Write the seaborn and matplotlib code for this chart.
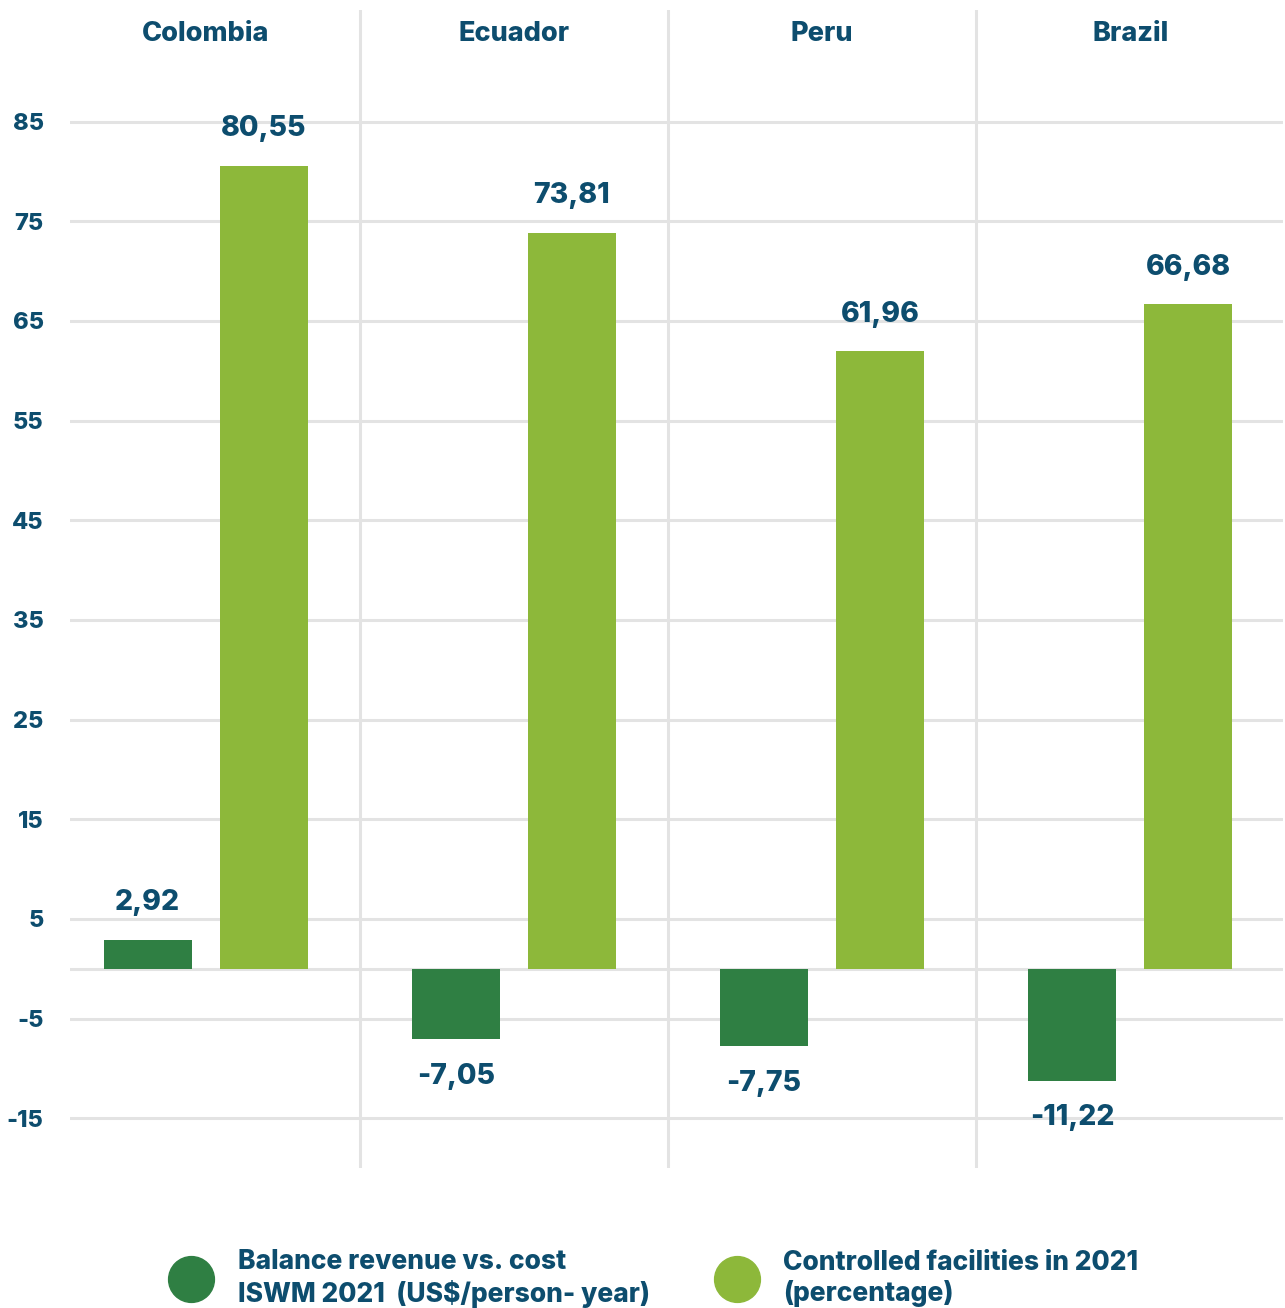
import matplotlib
matplotlib.use("Agg")
import matplotlib.pyplot as plt
from matplotlib.lines import Line2D
import seaborn as sns
import pandas as pd

# Data
countries = ["Colombia", "Ecuador", "Peru", "Brazil"]
balance = [2.92, -7.05, -7.75, -11.22]          # US$/person-year
controlled = [80.55, 73.81, 61.96, 66.68]       # percentage
series_names = [
    "Balance revenue vs. cost\nISWM 2021  (US\\$/person- year)",
    "Controlled facilities in 2021\n(percentage)",
]
y_ticks = [-15, -5, 5, 15, 25, 35, 45, 55, 65, 75, 85]

dark_green = "#2f7f43"
light_green = "#8db83a"
text_blue = "#0d4d6e"
grid_grey = "#e3e3e3"
heavy = 800

sns.set_theme(style="white")
plt.rcParams["font.family"] = ["Inter", "DejaVu Sans"]
plt.rcParams["font.weight"] = heavy
plt.rcParams["axes.unicode_minus"] = False

df = pd.DataFrame({
    "country": countries * 2,
    "series": [series_names[0]] * 4 + [series_names[1]] * 4,
    "value": balance + controlled,
})

fig = plt.figure(figsize=(12.85, 13.08), dpi=100)
ax = fig.add_axes([0.0545, 0.107, 0.944, 0.8854])

sns.barplot(data=df, x="country", y="value", hue="series",
            order=countries, hue_order=series_names,
            palette=[dark_green, light_green], width=0.752, gap=0.24,
            saturation=1, linewidth=0, legend=False, ax=ax, zorder=3)

ax.set_ylim(-20, 96.2)
ax.set_xlim(-0.44, 3.496)
ax.set_yticks(y_ticks)
ax.set_xlabel("")
ax.set_ylabel("")

# horizontal grid + zero line
for t in y_ticks + [0]:
    ax.axhline(t, color=grid_grey, lw=2.2, zorder=1)
# group separators
for xs in [0.5, 1.5, 2.5]:
    ax.axvline(xs, color=grid_grey, lw=2.2, zorder=1)

for s in ax.spines.values():
    s.set_visible(False)

ax.tick_params(axis="y", length=0, pad=19, labelsize=17, labelcolor=text_blue)
ax.tick_params(axis="x", length=0, bottom=False, labelbottom=False,
               top=True, labeltop=True, pad=-27, labelsize=19.5,
               labelcolor=text_blue)
for lab in ax.get_xticklabels() + ax.get_yticklabels():
    lab.set_fontweight(heavy)

# value labels
for cont in ax.containers:
    vals = [b.get_height() for b in cont]
    ax.bar_label(cont, labels=[f"{v:.2f}".replace(".", ",") for v in vals],
                 padding=17, fontsize=20.5, fontweight=heavy, color=text_blue)

handles = [Line2D([], [], marker="o", linestyle="", markersize=33, color=c)
           for c in (dark_green, light_green)]
fig.legend(handles, series_names, loc="center", ncol=2, frameon=False,
           bbox_to_anchor=(0.507, 0.0225), handletextpad=0.75,
           columnspacing=2.3, labelspacing=0.1,
           prop={"size": 19, "weight": heavy}, labelcolor=text_blue)

fig.savefig("out.png", dpi=100)
